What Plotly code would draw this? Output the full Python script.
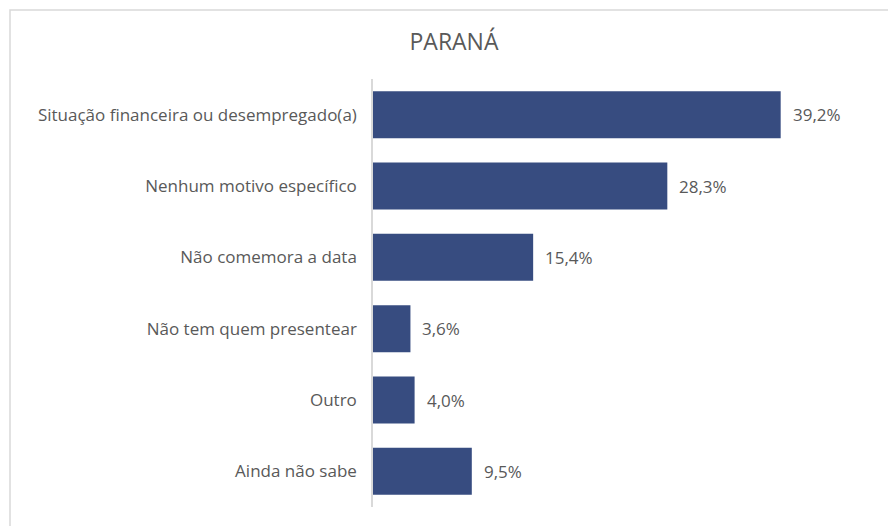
import plotly.graph_objects as go

categories = ["Situação financeira ou desempregado(a)", "Nenhum motivo específico",
              "Não comemora a data", "Não tem quem presentear", "Outro", "Ainda não sabe"]
values = [39.2, 28.3, 15.4, 3.6, 4.0, 9.5]
labels = ["39,2%", "28,3%", "15,4%", "3,6%", "4,0%", "9,5%"]
title = "PARANÁ"

FONT = "Open Sans"
GRAY = "#595959"
BAR = "#374C80"

W, H = 888, 526
L, R, T, B = 373, 47, 79, 19
pw, ph = W - L - R, H - T - B

def px_x(p):
    return (p - L) / pw

def px_y(p):
    return (H - B - p) / ph

fig = go.Figure(go.Bar(
    y=categories, x=values, orientation="h",
    marker=dict(color=BAR, line=dict(width=0)),
    width=0.66, hoverinfo="skip",
))

for c, v, t in zip(categories, values, labels):
    fig.add_annotation(x=v, y=c, text=t, showarrow=False, xanchor="left",
                       xshift=10, font=dict(family=FONT, size=17, color=GRAY))

fig.add_shape(type="rect", xref="paper", yref="paper",
              x0=px_x(10), x1=px_x(895), y0=px_y(533), y1=px_y(10),
              line=dict(color="#D9D9D9", width=1.5), layer="below")

fig.update_layout(
    width=W, height=H,
    margin=dict(l=L, r=R, t=T, b=B),
    paper_bgcolor="white", plot_bgcolor="white",
    showlegend=False,
    title=dict(text=title, x=454 / W, xanchor="center", xref="container",
               y=1 - 42 / H, yanchor="middle", yref="container",
               font=dict(family=FONT, size=23, color=GRAY)),
    xaxis=dict(range=[0, 45], visible=False, fixedrange=True),
    yaxis=dict(autorange="reversed", showline=True, linecolor="#D9D9D9", linewidth=1.5,
               ticks="", showgrid=False, ticklabelstandoff=11,
               tickfont=dict(family=FONT, size=17, color=GRAY)),
)

fig.write_html("out.html", config={"displayModeBar": False},
               post_script="document.body.style.margin='0px';")
